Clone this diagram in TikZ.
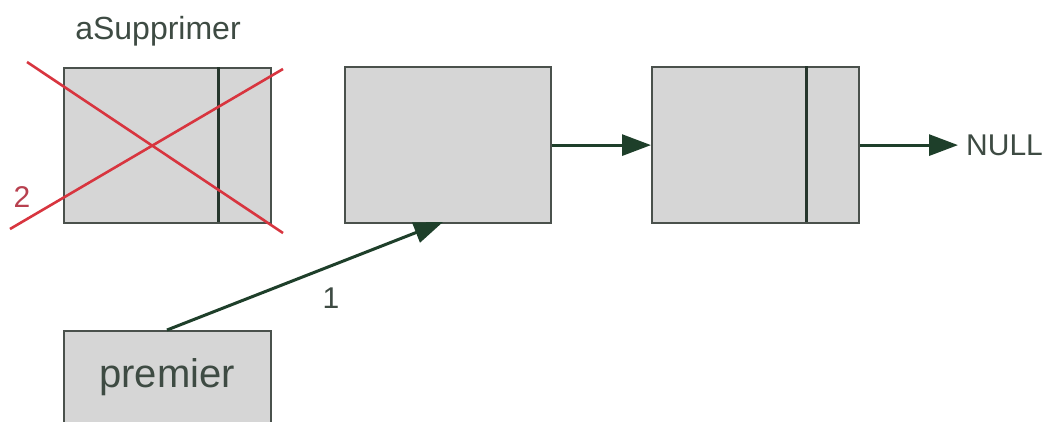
\documentclass[tikz,border=0pt]{standalone}
\usepackage{fontspec}
\setmainfont{Liberation Sans}
\usetikzlibrary{arrows.meta}
\definecolor{boxfill}{HTML}{D6D6D6}
\definecolor{boxline}{HTML}{4A514C}
\definecolor{divline}{HTML}{26362C}
\definecolor{arrowc}{HTML}{1E3F2A}
\definecolor{txtc}{HTML}{3E4B43}
\definecolor{crossred}{HTML}{D8353F}
\definecolor{labred}{HTML}{B8404F}
\tikzset{
  cell/.style={draw=boxline, fill=boxfill, line width=2.2pt, inner sep=0pt, anchor=north west, rectangle},
  divider/.style={draw=divline, line width=3pt},
  link/.style={draw=arrowc, line width=3pt, -{Triangle[length=29pt,width=21pt]}},
  cross/.style={draw=crossred, line width=2.6pt},
  lbl/.style={text=txtc, inner sep=0pt}
}
\begin{document}
\begin{tikzpicture}[x=1pt,y=-1pt]
\clip (0,0) rectangle (1050,421);
\fill[white] (0,0) rectangle (1050,421);
% boxes
\node[cell, minimum width=207pt, minimum height=155pt] (del) at (63,67) {};
\node[cell, minimum width=206pt, minimum height=156pt] (second) at (344,66) {};
\node[cell, minimum width=207pt, minimum height=156pt] (third) at (651,66) {};
\node[cell, minimum width=207pt, minimum height=120pt] (prem) at (63,330) {};
% dividers
\coordinate (d1t) at (218,67);
\coordinate (d1b) at (218,222);
\draw[divider] (d1t) -- (d1b);
\coordinate (d3t) at (806,66);
\coordinate (d3b) at (806,222);
\draw[divider] (d3t) -- (d3b);
% texts
\node[lbl, font=\fontsize{32}{32}\selectfont] (lab) at (158,31) {aSupprimer};
\node[lbl, font=\fontsize{40}{40}\selectfont] (premtxt) at (167,377) {premier};
\node[lbl, font=\fontsize{30}{30}\selectfont, anchor=west] (null) at (966,145) {NULL};
\node[lbl, font=\fontsize{30}{30}\selectfont] (one) at (331,298) {1};
\node[inner sep=0pt, text=labred, font=\fontsize{30}{30}\selectfont] (two) at (22,197) {2};
% connectors
\coordinate (pt) at (167,330);
\coordinate (tgt) at (443,222);
\coordinate (nullin) at (958,144);
\draw[link] (second.east) -- (third.west);
\draw[link] (third.east) -- (third.east -| nullin);
\draw[link] (pt) -- (tgt);
% cross
\coordinate (ca1) at (27,62);
\coordinate (ca2) at (283,233);
\coordinate (cb1) at (10,229);
\coordinate (cb2) at (283,69);
\draw[cross] (ca1) -- (ca2);
\draw[cross] (cb1) -- (cb2);
\end{tikzpicture}
\end{document}
